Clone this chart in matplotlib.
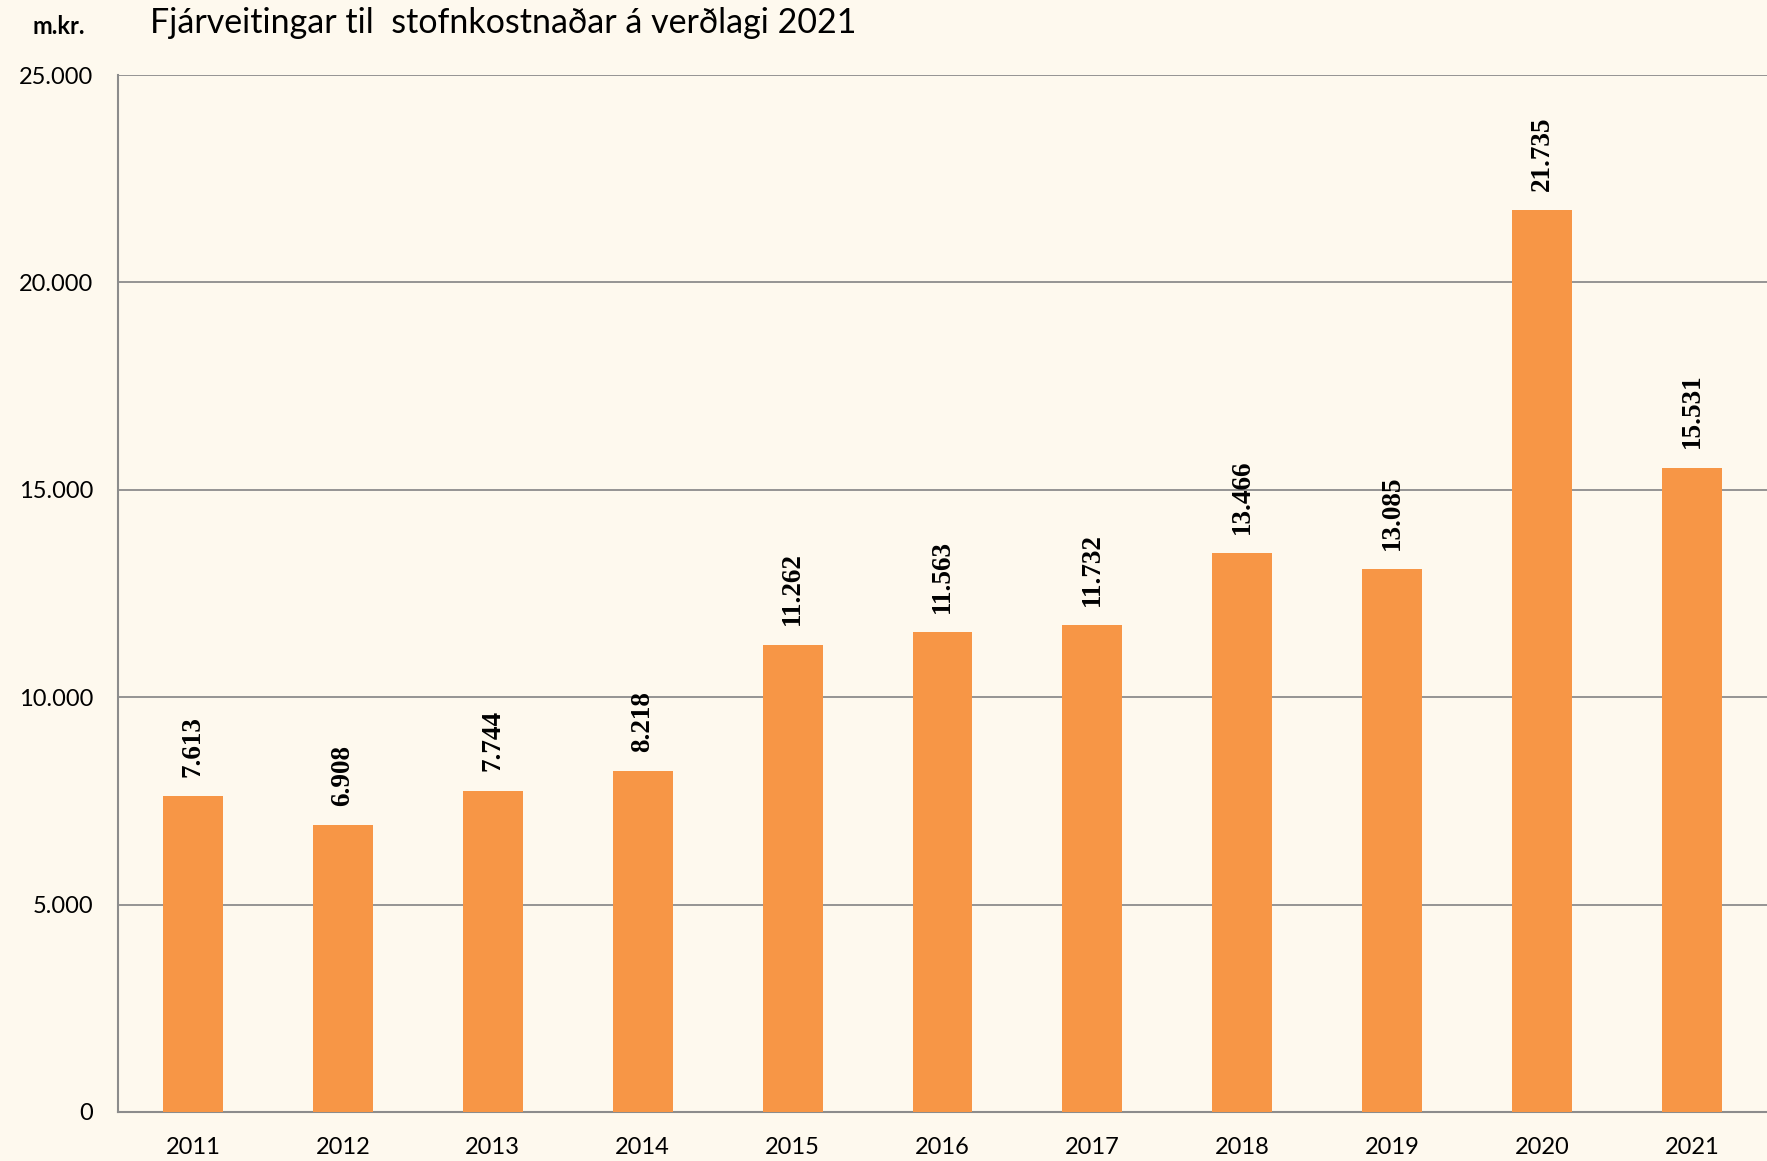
import matplotlib.pyplot as plt
import matplotlib.ticker as mtick

# Gögn
years = ["2011", "2012", "2013", "2014", "2015", "2016", "2017", "2018", "2019", "2020", "2021"]
values = [7613, 6908, 7744, 8218, 11262, 11563, 11732, 13466, 13085, 21735, 15531]
labels = ["7.613", "6.908", "7.744", "8.218", "11.262", "11.563", "11.732", "13.466", "13.085", "21.735", "15.531"]

bg = "#fef9ee"
bar_color = "#f79646"

fig = plt.figure(figsize=(17.67, 11.61), dpi=100, facecolor=bg)
ax = fig.add_axes([118/1767, 1 - 1112/1161, 1649/1767, (1112 - 75)/1161])
ax.set_facecolor(bg)

x = range(len(years))
ax.bar(x, values, width=0.40, color=bar_color, zorder=3)

for i, v in enumerate(values):
    ax.annotate(labels[i], xy=(i, v), xytext=(0, 14), textcoords="offset points",
                rotation=90, ha="center", va="bottom",
                fontfamily="Liberation Serif", fontweight="bold", fontsize=19.5, zorder=4)

ax.set_xlim(-0.5, len(years) - 0.5)
ax.set_ylim(0, 25000)
ax.set_xticks(list(x))
ax.set_xticklabels(years)
ax.yaxis.set_major_locator(mtick.MultipleLocator(5000))
ax.yaxis.set_major_formatter(mtick.FuncFormatter(lambda v, p: "{:,.0f}".format(v).replace(",", ".")))

ax.grid(axis="y", color="#8c8c8c", linewidth=1.3, zorder=1)
for s in ["top", "right"]:
    ax.spines[s].set_visible(False)
for s in ["left", "bottom"]:
    ax.spines[s].set_color("#8c8c8c")
    ax.spines[s].set_linewidth(1.5)
ax.tick_params(axis="both", length=0, labelsize=17)
ax.tick_params(axis="y", pad=18)
ax.tick_params(axis="x", pad=18)
for t in ax.get_xticklabels() + ax.get_yticklabels():
    t.set_fontfamily("Lato")

fig.text(33/1767, 1 - 26/1161, "m.kr.", fontfamily="Lato", fontweight="bold", fontsize=17, va="center")
fig.text(150/1767, 1 - 23/1161, "Fjárveitingar til  stofnkostnaðar á verðlagi 2021",
         fontfamily="Lato", fontsize=24.5, va="center")

fig.savefig("out.png", dpi=100, facecolor=bg)
